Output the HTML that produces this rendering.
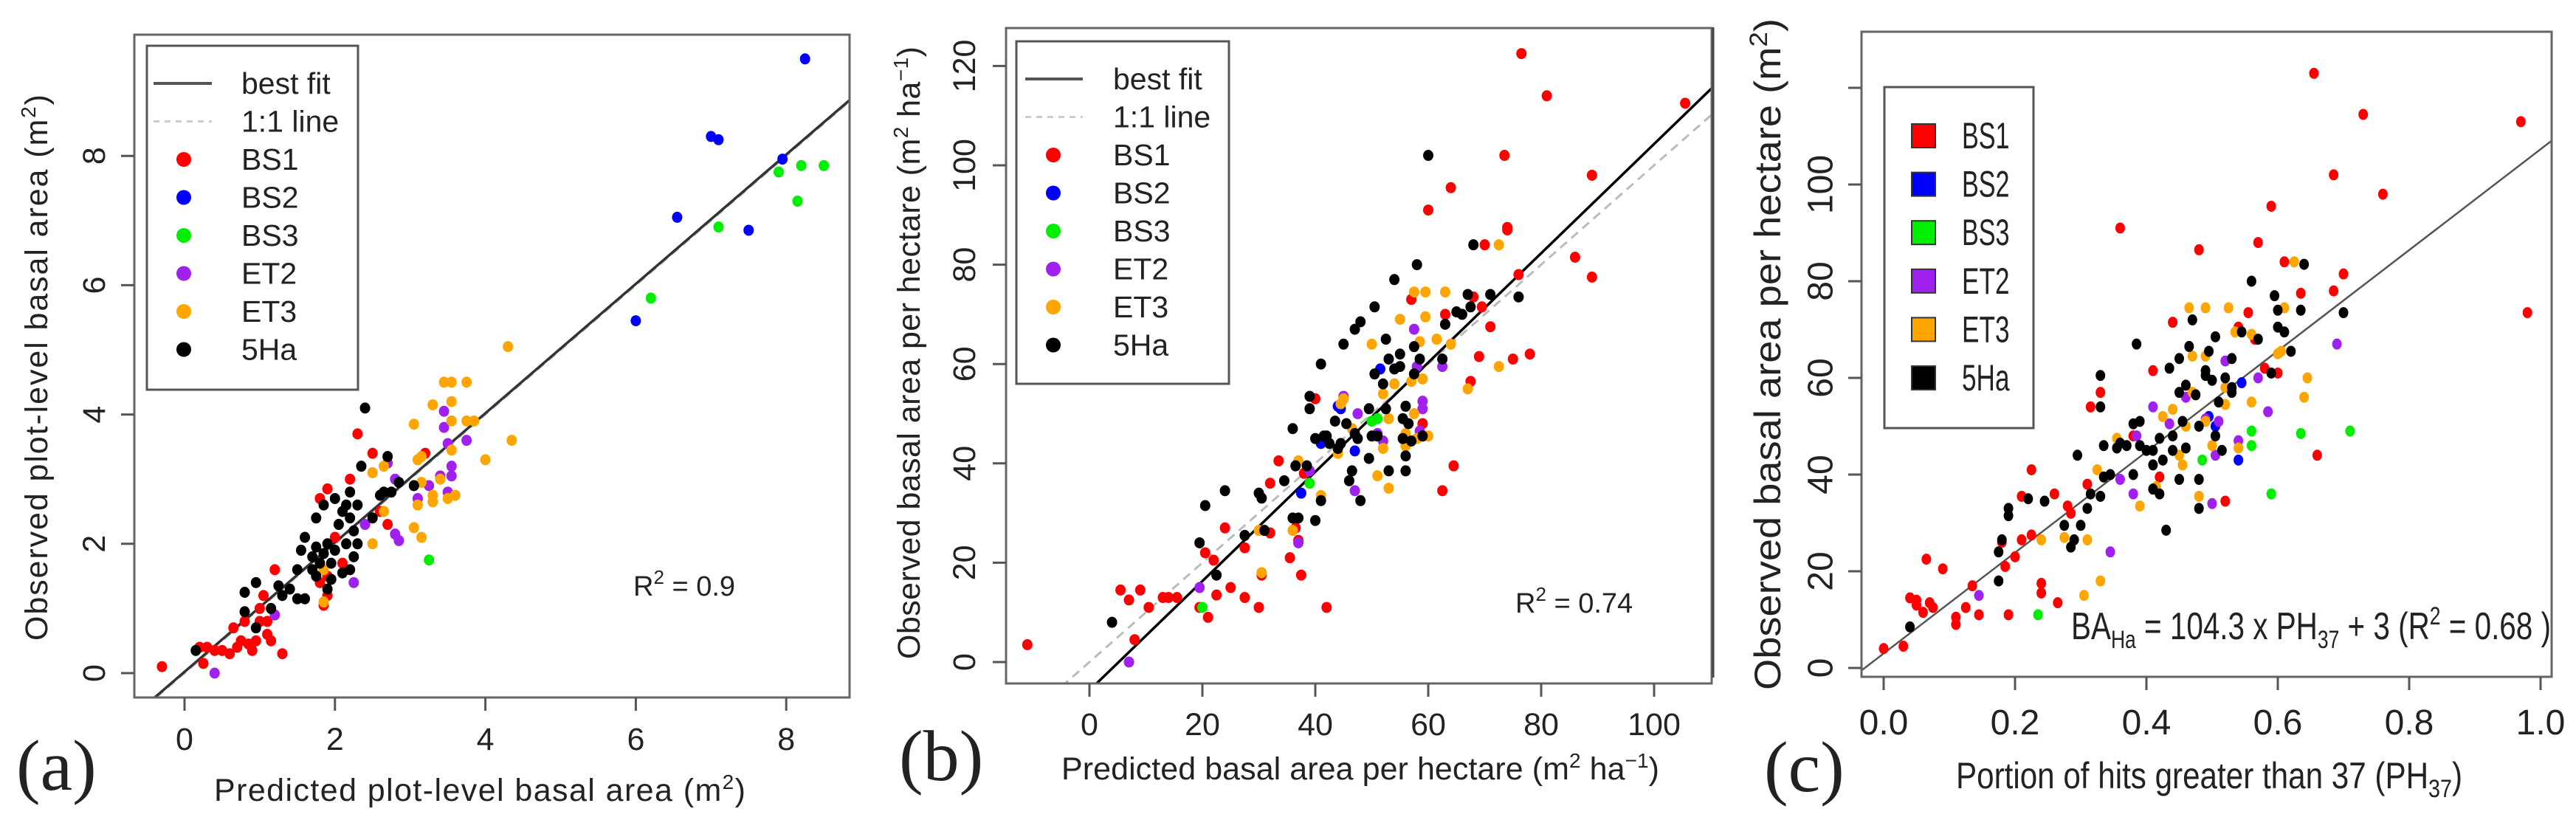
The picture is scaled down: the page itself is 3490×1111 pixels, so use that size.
<!DOCTYPE html>
<html><head><meta charset="utf-8"><style>
html,body{margin:0;padding:0;background:#fff}
svg{display:block}
text{font-family:"Liberation Sans",sans-serif;fill:#222}
.n text{font-family:"Liberation Sans Narrow","Liberation Sans",sans-serif}
</style></head><body>
<svg id="fig" width="3490" height="1111" viewBox="0 0 3490 1111" xmlns="http://www.w3.org/2000/svg"></svg>
<script>
// ---------- Panel (a) data ----------
const aBS1x=[-0.3,0.2,0.3,0.25,0.4,0.5,0.6,0.65,0.7,0.75,0.8,0.85,0.9,0.95,1.0,1.05,1.1,1.1,1.15,1.2,1.3,1.0,1.8,1.9,1.9,1.85,2.0,2.1,2.2,2.3,2.5,2.6,2.7,3.2,1.9,1.8];
const aBS1y=[0.1,0.4,0.4,0.15,0.35,0.35,0.3,0.7,0.4,0.5,0.8,0.45,0.35,0.5,1.0,1.2,0.8,0.6,0.5,1.6,0.3,0.8,2.7,2.85,1.2,1.05,2.1,1.7,3.0,3.7,3.4,2.5,2.3,3.4,1.5,1.4];
const aBS2x=[8.25,7.0,7.1,6.55,7.95,7.5,6.0];
const aBS2y=[9.5,8.3,8.25,7.05,7.95,6.85,5.45];
const aBS3x=[7.1,6.2,7.9,8.2,8.5,8.15,3.25];
const aBS3y=[6.9,5.8,7.75,7.85,7.85,7.3,1.75];
const aET2x=[0.4,1.2,2.25,2.4,2.8,2.85,2.8,3.1,3.25,3.4,3.45,3.45,3.5,3.55,3.55,3.5,3.75,2.7];
const aET2y=[0,0.9,1.4,2.3,2.15,2.05,3.0,2.7,2.9,3.05,3.8,4.05,3.55,3.2,3.05,2.8,3.6,3.25];
const aET3x=[4.3,3.45,3.55,3.75,3.3,3.55,3.05,3.55,3.75,3.85,3.15,3.1,3.55,4.35,4.0,2.65,2.5,3.4,3.15,3.1,3.3,3.3,3.5,3.6,3.05,3.15,2.65,2.5,1.85,1.85];
const aET3y=[5.05,4.5,4.5,4.5,4.15,4.2,3.85,3.9,3.9,3.9,3.35,3.3,3.45,3.6,3.3,3.2,3.1,3.0,2.95,2.6,2.65,2.75,2.7,2.75,2.25,2.1,2.5,2.0,1.1,1.6];
const aHAx=[0.15,0.8,0.8,0.95,0.95,1.15,1.25,1.3,1.4,1.5,1.5,1.55,1.6,1.6,1.7,1.7,1.75,1.75,1.8,1.85,1.85,1.9,1.9,1.95,2.0,2.0,2.05,2.1,2.15,2.15,2.2,2.2,2.25,2.25,2.3,2.35,2.4,2.5,2.6,2.65,2.7,2.75,2.85,3.05,2.3,2.1,1.75,1.95,2.2];
const aHAy=[0.35,1.25,0.95,1.4,0.7,1.0,1.35,1.2,1.3,1.15,1.6,1.9,1.15,2.1,1.6,1.8,2.4,1.95,1.7,1.85,2.6,2.0,1.3,1.7,2.7,1.9,2.3,2.5,2.0,2.6,1.6,2.4,2.2,1.8,2.6,3.2,4.1,2.4,2.75,2.8,3.35,2.8,2.95,2.9,2.0,1.55,1.5,1.45,2.8];
const aXticks=[0,2,4,6,8];
const aYticks=[0,2,4,6,8];
const aFit=[0.02,1.0];   // intercept, slope
// ---------- Panel (b) data ----------
const bBS1x=[-11,5.5,7,9,8,10.5,13,14,15.5,19.5,21,20.5,22,22.5,24,25,27.5,27.5,30,30.5,32,32,33.5,35.5,36.5,37,37.5,38,42,40,57,59,60,62.5,63,64,64.5,67.5,68,69,69.5,70,71,73.5,74,74,75,76,78,76.5,81,86,89,89,105.5];
const bBS1y=[3.5,14.5,12.5,14.5,4.5,11,13,13,13,11,9,22,20.5,13.5,27,15,23,13,11,17.5,36,26,40.5,21,27,24.5,17.5,38,11,53,73,48,91,34.5,70,95.5,39.5,56.5,73.5,61.5,71.5,84,67.5,102,87,87.5,61,78,62,122.5,114,81.5,98,77.5,112.5];
const bBS2x=[37.5,44,44.5,47,51.5,41];
const bBS2y=[34,51.5,51,42.5,59,44];
const bBS3x=[20,39,50,51,53];
const bBS3y=[11,36,48.5,49,49];
const bET2x=[7,19.5,37,39,45,47,47.5,52,57.5,58,59,59,58.5,62.5,51];
const bET2y=[0,15,24,38.5,53.5,34.5,50,44.5,67,59.5,52.5,51,46.5,59.5,46];
const bET3x=[30,30.5,31,36,37,41,44,44.5,45,46.5,50,51,52,52,53,53,54,55,56,56,57,57.5,58,58.5,59,59.5,59.5,60,61.5,63,64,67,72.5,72.5,57.5];
const bET3y=[26.5,18,26.5,26.5,40.5,33.5,42,52,53,47,64,37.5,54,43,35,49,56,69,46,43.5,56.5,74.5,45,64.5,57,74.5,69.5,45.5,65,74.5,64,55,84,59.5,50];
const bHAx=[4,19.5,20.5,22.5,24,27.5,30,30.5,31,34.5,36,36,36.5,37,38.5,39,39,40,40,41,41,41.5,42.5,43.5,44.5,45,45.5,46,46.5,47,47.5,48,48,49.5,49.5,50,50.5,50.5,51,52,52.5,52.5,53,53,54,54,55,55,55.5,55.5,56,56,56,56.5,57,57.5,57.5,58,58.5,59,60,62.5,63,65,66,67,67.5,68,71,76,47,44,42];
const bHAy=[8,24,31.5,17.5,34.5,25.5,34,33,26.5,36.5,47,29,39.5,29,39.5,53.5,51,28.5,45,32.5,60,45.5,44,48.5,44,64,48,36.5,38.5,67,45,32.5,68.5,51,41,45.5,71.5,58,45.5,56,51,65,38.5,61,77,59,62,59.5,49,45,51.5,41.5,38.5,48,44.5,63.5,58,80,61,45.5,102,61,68,70.5,70,74,71.5,84,74,73.5,46,43,45.5];
const bXticks=[0,20,40,60,80,100];
const bYticks=[0,20,40,60,80,100,120];
const bFit=[-5.7,1.1];
// ---------- Panel (c) data ----------
const cBS1x=[0.0,0.03,0.04,0.05,0.05,0.06,0.065,0.07,0.075,0.09,0.11,0.11,0.125,0.135,0.145,0.18,0.185,0.19,0.2,0.21,0.21,0.225,0.225,0.24,0.24,0.26,0.265,0.28,0.285,0.31,0.315,0.33,0.36,0.38,0.41,0.42,0.44,0.48,0.52,0.54,0.555,0.565,0.57,0.58,0.59,0.6,0.61,0.635,0.655,0.66,0.685,0.685,0.7,0.73,0.76,0.97,0.98];
const cBS1y=[4,4.5,14.5,14,13,11.5,22.5,13.5,12.5,20.5,10.5,9,12.5,17,11,26,21,11,23,35.5,26.5,27.5,41,17.5,15.5,36,13.5,33.5,32,38,54,57,91,48,61.5,39.5,71.5,86.5,34.5,70.5,73.5,68,88,62,95.5,61,84,77.5,123,44,102,78,81.5,114.5,98,113,73.5];
const cBS2x=[0.495,0.505,0.54,0.545];
const cBS2y=[52,50,43,59];
const cBS3x=[0.235,0.485,0.56,0.56,0.59,0.635,0.71];
const cBS3y=[11,43,49,46,36,48.5,49];
const cET2x=[0.145,0.345,0.36,0.38,0.385,0.41,0.435,0.46,0.49,0.5,0.505,0.51,0.52,0.54,0.57,0.585,0.69];
const cET2y=[15,24,39,36,48,54,50.5,56,51.5,34,44,51,63.5,47,60,53,67];
const cET3x=[0.24,0.275,0.305,0.31,0.325,0.33,0.355,0.39,0.415,0.425,0.44,0.45,0.455,0.465,0.47,0.47,0.48,0.49,0.49,0.49,0.5,0.52,0.525,0.535,0.54,0.56,0.56,0.6,0.605,0.61,0.625,0.64,0.645,0.52,0.46];
const cET3y=[26.5,27,15,26.5,41,18,47.5,33.5,37.5,52,53.5,44,42,74.5,57,64.5,35.5,74.5,64.5,51,46,54.5,74.5,69.5,45.5,55,69,65,65.5,74.5,84,56,60,58,50];
const cHAx=[0.04,0.175,0.175,0.18,0.19,0.19,0.22,0.245,0.275,0.285,0.29,0.295,0.3,0.31,0.315,0.33,0.33,0.33,0.335,0.335,0.345,0.355,0.36,0.37,0.38,0.38,0.385,0.39,0.39,0.4,0.41,0.41,0.41,0.42,0.42,0.425,0.43,0.435,0.44,0.44,0.45,0.45,0.45,0.455,0.46,0.46,0.465,0.47,0.475,0.48,0.48,0.48,0.49,0.49,0.495,0.5,0.505,0.505,0.515,0.52,0.53,0.53,0.545,0.56,0.57,0.59,0.595,0.6,0.6,0.61,0.62,0.635,0.64,0.7,0.51,0.53];
const cHAy=[8.5,18,24,26.5,31.5,33,35,34.5,29.5,25,26.5,44,29.5,33,36,54,60.5,35.5,39.5,46,40,45.5,46.5,46,40,50.5,67,51,46,45,42,37,45,36,47.5,43,28.5,62,45,48,64,57,39,51,58.5,45.5,66.5,72,56.5,33,39,50,60.5,61.5,65.5,59.5,48,68.5,45,60,58,64,69.5,80,68,61,77,70.5,74,69.5,65.5,74,83.5,73.5,55,57];
const cXticks=[0.0,0.2,0.4,0.6,0.8,1.0];
const cXlabels=["0.0","0.2","0.4","0.6","0.8","1.0"];
const cYticks=[0,20,40,60,80,100,120];
const cYlabels=["0","20","40","60","80","100",""];
const cFit=[3,104.3];

const seriesNames=["BS1","BS2","BS3","ET2","ET3","5Ha"];
const seriesColors=["#ff0000","#0000ff","#00ee00","#a020f0","#ffa500","#000000"];

const NS="http://www.w3.org/2000/svg";
const svg=document.getElementById('fig');
function mk(tag,attrs,parent){const e=document.createElementNS(NS,tag);for(const k in attrs)e.setAttribute(k,attrs[k]);(parent||svg).appendChild(e);return e;}

function panel(P){
  const g=mk('g',{});
  
  
  if(P.narrow) g.setAttribute('class','n');
  const sx=v=>P.x0+v*P.kx, sy=v=>P.y0-v*P.ky;
  const clipId='clip-'+P.id;
  const cp=mk('clipPath',{id:clipId},g);
  mk('rect',{x:P.L,y:P.T,width:P.R-P.L,height:P.B-P.T},cp);
  // lines
  const xa=(P.L-P.x0)/P.kx, xb=(P.R-P.x0)/P.kx;
  if(P.oneToOne){
    const l=mk('line',{x1:sx(xa),y1:sy(xa),x2:sx(xb),y2:sy(xb),stroke:'#bbb','stroke-width':3,'stroke-dasharray':'12,8','clip-path':`url(#${clipId})`},g);
    
    
  }
  const f=mk('line',{x1:sx(xa),y1:sy(P.fit[0]+P.fit[1]*xa),x2:sx(xb),y2:sy(P.fit[0]+P.fit[1]*xb),stroke:P.fitColor,'stroke-width':P.fitW,'clip-path':`url(#${clipId})`},g);
  
  
  // points
  P.series.forEach((s,i)=>{
    const sg=mk('g',{fill:seriesColors[i]},g);
    
    
    s[0].forEach((xv,j)=>{
      const c=mk('ellipse',{cx:sx(xv),cy:sy(s[1][j]),rx:P.rx,ry:P.ry},sg);
      
      
    });
  });
  // box
  const box=mk('rect',{x:P.L,y:P.T,width:P.R-P.L,height:P.B-P.T,fill:'none',stroke:'#666','stroke-width':3},g);
  
  
  // x ticks
  P.xticks.forEach((v,i)=>{
    mk('line',{x1:sx(v),x2:sx(v),y1:P.B,y2:P.B+18,stroke:'#555','stroke-width':3},g);
    const t=mk('text',{x:sx(v),y:P.xlabY,'text-anchor':'middle','font-size':P.tickFs},g);
    t.textContent=P.xlabels?P.xlabels[i]:String(v);
    
    
  });
  P.yticks.forEach((v,i)=>{
    mk('line',{x1:P.L,x2:P.L-18,y1:sy(v),y2:sy(v),stroke:'#555','stroke-width':3},g);
    const lab=P.ylabels?P.ylabels[i]:String(v);
    if(lab!==''){
      const t=mk('text',{x:P.ylabX,y:sy(v),'text-anchor':'middle','dominant-baseline':'central','font-size':P.tickFs,transform:`rotate(-90 ${P.ylabX} ${sy(v)})`},g);
      t.textContent=lab;
      
      
    }
  });
  return g;
}
function txt(g,html,attrs,name){const t=mk('text',attrs,g);t.innerHTML=html;return t;}

// ---- Panel a
const ga=panel({id:'a',L:182,R:1151,T:47,B:945,x0:250,kx:101.9,y0:912,ky:87.6,rx:7,ry:7.5,fit:aFit,fitColor:'#333',fitW:3.5,oneToOne:true,
 series:[[aBS1x,aBS1y],[aBS2x,aBS2y],[aBS3x,aBS3y],[aET2x,aET2y],[aET3x,aET3y],[aHAx,aHAy]],
 xticks:aXticks,yticks:aYticks,xlabY:1016,ylabX:128,tickFs:43});
// ---- Panel b
const gb=panel({id:'b',L:1363,R:2319,T:38,B:926,x0:1476,kx:7.65,y0:897,ky:6.73,rx:7,ry:7.5,fit:bFit,fitColor:'#000',fitW:3.5,oneToOne:true,
 series:[[bBS1x,bBS1y],[bBS2x,bBS2y],[bBS3x,bBS3y],[bET2x,bET2y],[bET3x,bET3y],[bHAx,bHAy]],
 xticks:bXticks,yticks:bYticks,xlabY:996,ylabX:1307,tickFs:43});
// ---- Panel c
const gc=panel({id:'c',L:2522,R:3457,T:43,B:917,x0:2552,kx:890,y0:905,ky:6.55,rx:6.5,ry:7.5,fit:cFit,fitColor:'#555',fitW:2.5,oneToOne:false,narrow:true,
 series:[[cBS1x,cBS1y],[cBS2x,cBS2y],[cBS3x,cBS3y],[cET2x,cET2y],[cET3x,cET3y],[cHAx,cHAy]],
 xticks:cXticks,xlabels:cXlabels,yticks:cYticks,ylabels:cYlabels,xlabY:995,ylabX:2467,tickFs:48});

// legends a and b
function lineLegend(g,L,T,W,H,rowY0,sp,symX,lineX1,lineX2,textX){
  const lg=mk('g',{},g);
  
  
  mk('rect',{x:L,y:T,width:W,height:H,fill:'#fff',stroke:'#555','stroke-width':3},lg);
  mk('line',{x1:lineX1,x2:lineX2,y1:rowY0,y2:rowY0,stroke:'#555','stroke-width':4},lg);
  mk('line',{x1:lineX1,x2:lineX2,y1:rowY0+sp,y2:rowY0+sp,stroke:'#ccc','stroke-width':3,'stroke-dasharray':'8,7'},lg);
  const labels=['best fit','1:1 line'].concat(seriesNames);
  labels.forEach((s,i)=>{
    const y=rowY0+i*sp;
    if(i>=2) mk('circle',{cx:symX,cy:y,r:10,fill:seriesColors[i-2]},lg);
    const t=mk('text',{x:textX,y:y,'dominant-baseline':'central','font-size':41},lg);
    t.textContent=s;
    
    
  });
}
lineLegend(ga,199,62,286,466,113,51.5,249,208,287,327);
lineLegend(gb,1377,56,288,464,107,51.5,1427,1389,1467,1508);

// legend c
(function(){
  const lg=mk('g',{class:'n'},gc);
  
  
  mk('rect',{x:2553,y:118,width:202,height:462,fill:'#fff',stroke:'#555','stroke-width':3},lg);
  seriesNames.forEach((s,i)=>{
    const y=184+i*65.6;
    mk('rect',{x:2590,y:y-16,width:32,height:32,fill:seriesColors[i],stroke:'#333','stroke-width':2},lg);
    const t=mk('text',{x:2658,y:y,'dominant-baseline':'central','font-size':50,textLength:s.length*21.5,lengthAdjust:'spacingAndGlyphs'},lg);
    t.textContent=s;
    
    
  });
})();

// axis titles
txt(ga,'Predicted plot-level basal area (m<tspan dy="-16" font-size="28">2</tspan><tspan dy="16">)</tspan>',{x:290,y:1085,'font-size':43,textLength:720},'x-axis-title');
txt(ga,'Observed plot-level basal area  (m<tspan dy="-16" font-size="28">2</tspan><tspan dy="16">)</tspan>',{x:0,y:0,'font-size':43,textLength:740,transform:'translate(64,868) rotate(-90)'},'y-axis-title');
txt(gb,'Predicted basal area per hectare (m<tspan dy="-16" font-size="28">2</tspan><tspan dy="16"> ha</tspan><tspan dy="-16" font-size="28">−1</tspan><tspan dy="16">)</tspan>',{x:1438,y:1056,'font-size':43,textLength:810},'x-axis-title');
txt(gb,'Observed basal area per hectare (m<tspan dy="-16" font-size="28">2</tspan><tspan dy="16"> ha</tspan><tspan dy="-16" font-size="28">−1</tspan><tspan dy="16">)</tspan>',{x:0,y:0,'font-size':43,textLength:830,transform:'translate(1246,893) rotate(-90)'},'y-axis-title');
txt(gc,'Portion of hits greater than 37 (PH<tspan dy="12" font-size="34">37</tspan><tspan dy="-12">)</tspan>',{x:2650,y:1068,'font-size':50,textLength:686,lengthAdjust:'spacingAndGlyphs'},'x-axis-title');
txt(gc,'Observed basal area per hectare (m<tspan dy="-18" font-size="34">2</tspan><tspan dy="18">)</tspan>',{x:0,y:0,'font-size':50,textLength:910,lengthAdjust:'spacingAndGlyphs',transform:'translate(2412,935) rotate(-90)'},'y-axis-title');
// annotations
txt(ga,'R<tspan dy="-16" font-size="26">2</tspan><tspan dy="16"> = 0.9</tspan>',{x:858,y:807,'font-size':38},'r-squared-label');
txt(gb,'R<tspan dy="-16" font-size="26">2</tspan><tspan dy="16"> = 0.74</tspan>',{x:2053,y:830,'font-size':38},'r-squared-label');
txt(gc,'BA<tspan dy="12" font-size="34">Ha</tspan><tspan dy="-12"> = 104.3 x PH</tspan><tspan dy="12" font-size="34">37</tspan><tspan dy="-12"> + 3  (R</tspan><tspan dy="-20" font-size="34">2</tspan><tspan dy="20"> = 0.68 )</tspan>',{x:2806,y:866,'font-size':52,textLength:650,lengthAdjust:'spacingAndGlyphs'},'regression-equation');
// panel letters
txt(ga,'(a)',{x:22,y:1070,'font-size':98,style:'font-family:"Liberation Serif",serif'},'panel-label-a');
txt(gb,'(b)',{x:1218,y:1057,'font-size':98,style:'font-family:"Liberation Serif",serif'},'panel-label-b');
txt(gc,'(c)',{x:2390,y:1072,'font-size':98,style:'font-family:"Liberation Serif",serif'},'panel-label-c');
// left edge line in panel c
const edge=mk('line',{x1:2321,x2:2321,y1:37,y2:918,stroke:'#444','stroke-width':3},gc);


</script>
</body></html>
